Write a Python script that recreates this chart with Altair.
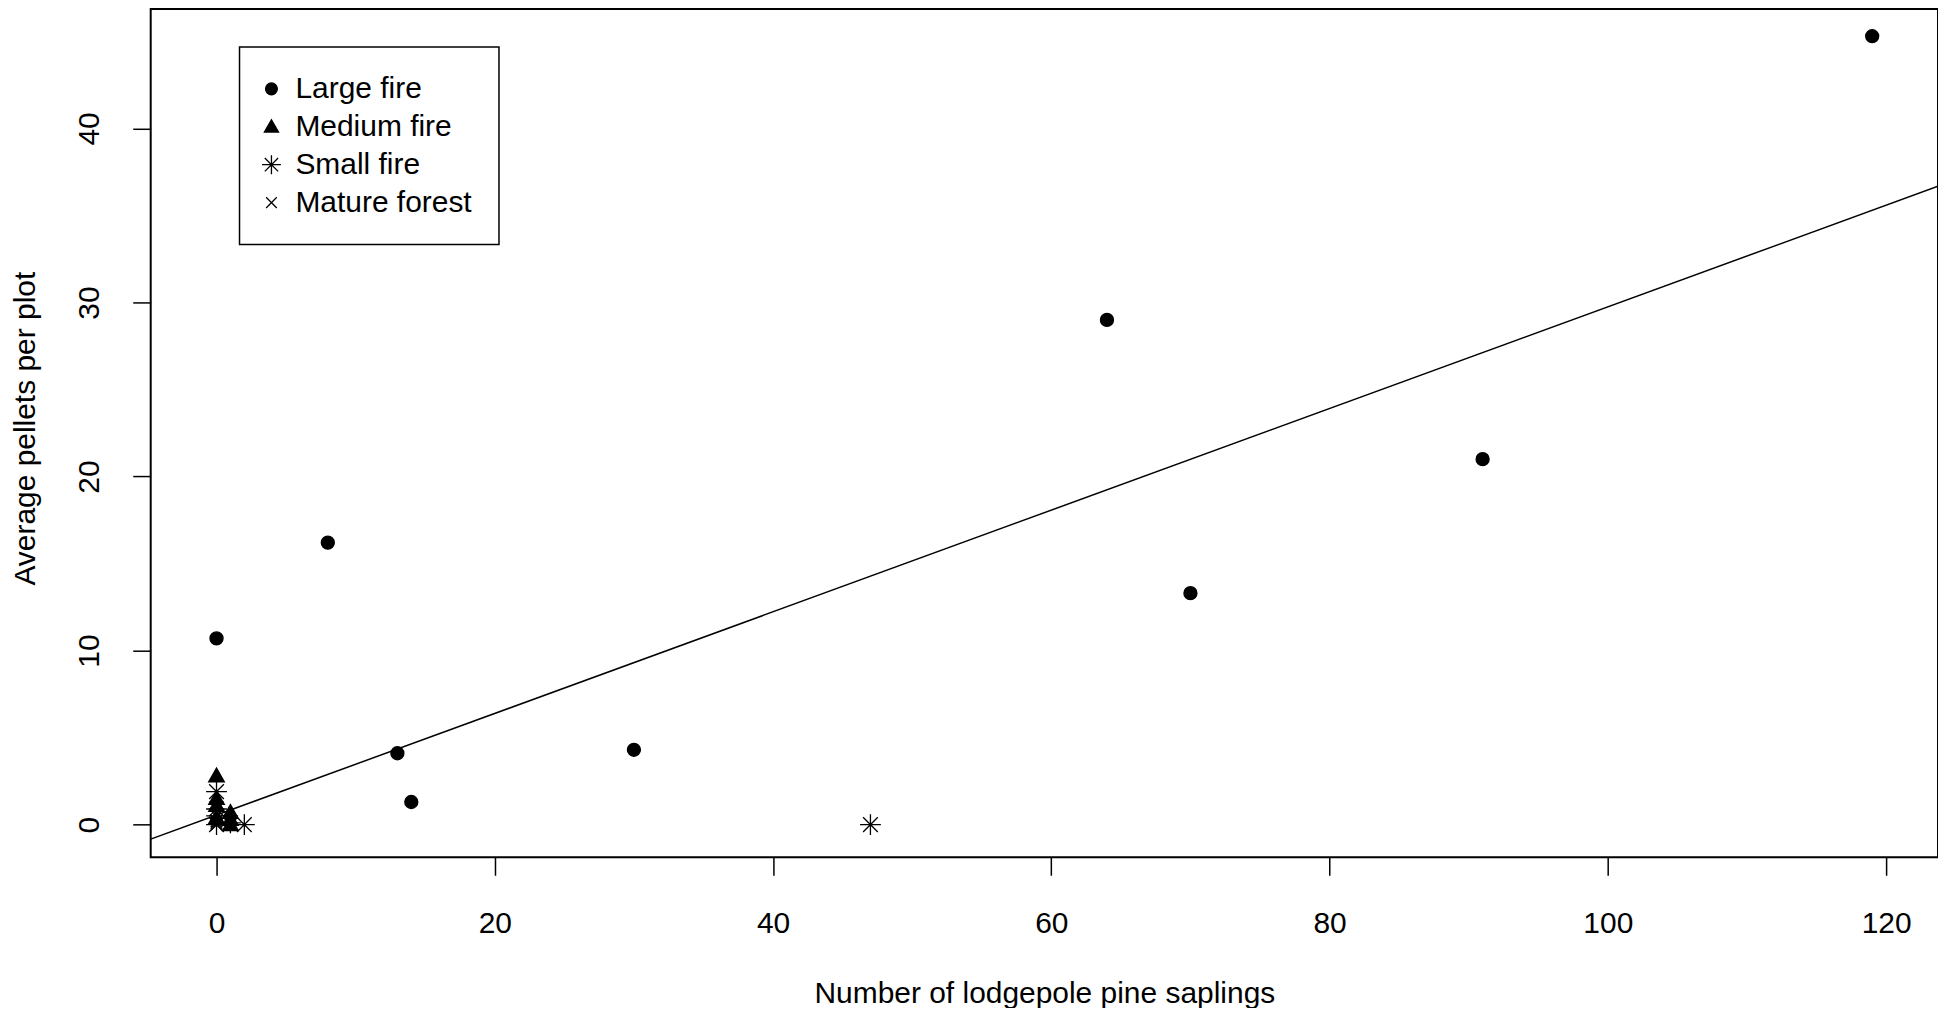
import altair as alt
import pandas as pd

# ---- data ----
large_x = [119, 64, 91, 70, 8, 0, 13, 14, 30]
large_y = [45.3, 29.0, 21.0, 13.3, 16.2, 10.7, 4.1, 1.3, 4.3]
medium_x = [0, 0, 0, 0, 1, 1, 1]
medium_y = [2.8, 1.5, 1.1, 0.4, 0.7, 0.3, 0.0]
small_x = [0, 0, 0, 2, 47, 1, 0]
small_y = [1.9, 0.9, 0.0, 0.0, 0.0, 0.1, 0.5]
mature_x = [0, 0, 1, 0]
mature_y = [0.0, 0.2, 0.0, 0.1]

groups = ["Large fire", "Medium fire", "Small fire", "Mature forest"]
x_ticks = [0, 20, 40, 60, 80, 100, 120]
y_ticks = [0, 10, 20, 30, 40]
x_domain = [-4.73, 123.73]
y_domain = [-1.875, 46.86]
fit_intercept = 0.55
fit_slope = 0.292

rows = []
for g, xs, ys in zip(groups, [large_x, medium_x, small_x, mature_x],
                     [large_y, medium_y, small_y, mature_y]):
    for a, b in zip(xs, ys):
        rows.append({"x": a, "y": b, "group": g})
pts = pd.DataFrame(rows)

fit = pd.DataFrame({"x": x_domain})
fit["y"] = fit_intercept + fit_slope * fit["x"]

asterisk = "M-1.6,0L1.6,0M0,-1.6L0,1.6M-1.13,-1.13L1.13,1.13M-1.13,1.13L1.13,-1.13"
triangle = "M0,-1.2L1.2,0.9L-1.2,0.9Z"
xmark = "M-0.9,-0.9L0.9,0.9M-0.9,0.9L0.9,-0.9"

FONT = "Liberation Sans"
FS = 30

xscale = alt.Scale(domain=x_domain, nice=False, zero=False)
yscale = alt.Scale(domain=y_domain, nice=False, zero=False)

xaxis = alt.Axis(values=x_ticks, title="Number of lodgepole pine saplings",
                 grid=False, domain=False, tickColor="black", tickWidth=1.5,
                 tickSize=18, labelPadding=33, labelFontSize=FS, labelFont=FONT,
                 labelColor="black", titleFontSize=FS, titleFont=FONT,
                 titleFontWeight="normal", titleColor="black",
                 titleX=895.5, titleY=137, titleAlign="center",
                 titleBaseline="middle", labelFlush=False)
yaxis = alt.Axis(values=y_ticks, title="Average pellets per plot",
                 grid=False, domain=False, tickColor="black", tickWidth=1.5,
                 tickSize=18, labelPadding=28, labelFontSize=FS, labelFont=FONT,
                 labelColor="black", labelAngle=270, labelAlign="center",
                 labelBaseline="bottom", titleFontSize=FS, titleFont=FONT,
                 titleFontWeight="normal", titleColor="black", titleAngle=270,
                 titleX=-125, titleY=420, titleAlign="center",
                 titleBaseline="middle", labelFlush=False)

legend = alt.Legend(title=None, orient="none", legendX=89, legendY=38,
                    padding=27, strokeColor="black", labelFont=FONT,
                    labelFontSize=FS, labelColor="black", labelLimit=0,
                    symbolStrokeWidth=1.3, symbolSize=140, labelOffset=9,
                    symbolOffset=-10, rowPadding=8, symbolOpacity=1)

points = alt.Chart(pts).mark_point(
    filled=True, strokeWidth=1.3, size=170, opacity=1
).encode(
    x=alt.X("x:Q", scale=xscale, axis=xaxis),
    y=alt.Y("y:Q", scale=yscale, axis=yaxis),
    shape=alt.Shape("group:N",
                    scale=alt.Scale(domain=groups,
                                    range=["circle", triangle, asterisk, xmark]),
                    legend=legend),
    fill=alt.Fill("group:N",
                  scale=alt.Scale(domain=groups,
                                  range=["black", "black", "black", "black"]),
                  legend=legend),
    stroke=alt.Stroke("group:N",
                      scale=alt.Scale(domain=groups,
                                      range=["black", "black", "black", "black"]),
                      legend=legend),
)

line = alt.Chart(fit).mark_line(color="black", strokeWidth=1.5, clip=True).encode(
    x=alt.X("x:Q", scale=xscale),
    y=alt.Y("y:Q", scale=yscale),
)

chart = alt.layer(line, points).properties(
    width=1791, height=850,
    autosize=alt.AutoSizeParams(type="none"),
    padding={"left": 143, "top": 0, "right": 0, "bottom": 150},
).configure_view(stroke="black", strokeWidth=2).configure_legend(
    strokeWidth=1.5
)

chart.save("out.html", embed_options={"renderer": "svg", "actions": False})
